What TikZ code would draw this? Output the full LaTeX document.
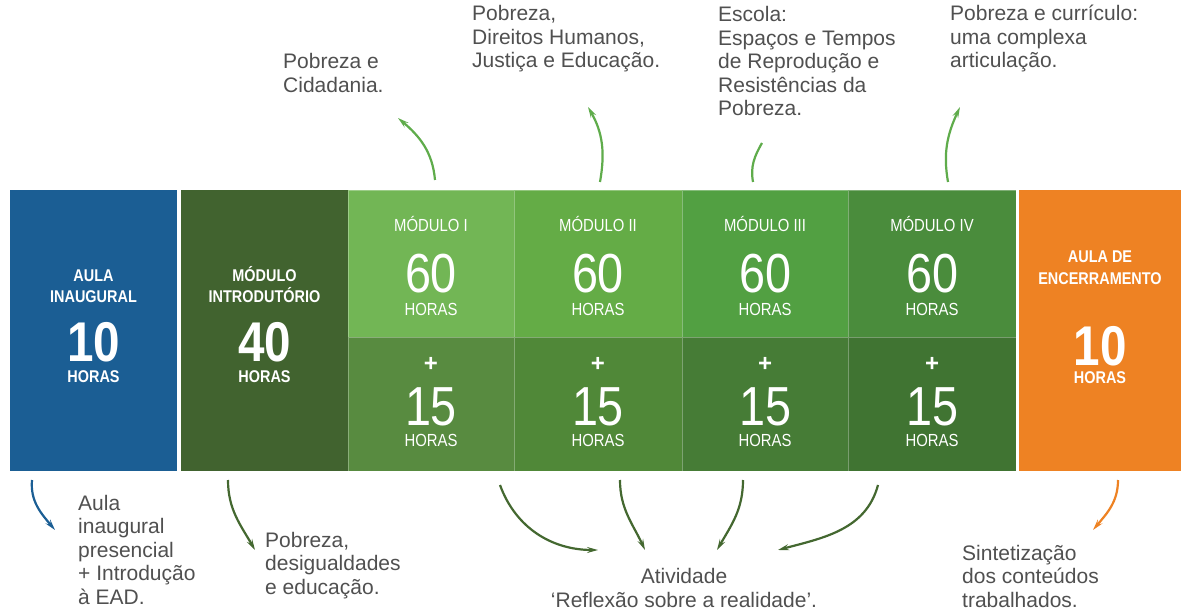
\documentclass[tikz,border=0pt]{standalone}
\usepackage{fontspec}
\setmainfont{Liberation Sans}
\newfontfamily\condfont[FakeStretch=0.85]{Liberation Sans}
\usetikzlibrary{arrows.meta}

\definecolor{aulablue}{RGB}{27,94,148}
\definecolor{introgreen}{RGB}{65,99,47}
\definecolor{modAtop}{RGB}{114,182,85}
\definecolor{modAbot}{RGB}{88,139,64}
\definecolor{modBtop}{RGB}{100,172,70}
\definecolor{modBbot}{RGB}{80,136,56}
\definecolor{modCtop}{RGB}{82,160,66}
\definecolor{modCbot}{RGB}{70,124,54}
\definecolor{modDtop}{RGB}{74,140,60}
\definecolor{modDbot}{RGB}{64,116,50}
\definecolor{fimorange}{RGB}{238,130,35}
\definecolor{topgreen}{RGB}{95,172,75}
\definecolor{botgreen}{RGB}{68,104,48}
\definecolor{labelgray}{RGB}{80,80,80}

\tikzset{
  box/.style={inner sep=0pt,outer sep=0pt,anchor=north west},
  cell/.style={box,draw=white,draw opacity=0.3,line width=0.7pt},
  capb/.style={text=white,anchor=base,inner sep=0pt,font=\condfont\bfseries\fontsize{17}{20}\selectfont},
  capr/.style={text=white,anchor=base,inner sep=0pt,font=\condfont\fontsize{17.5}{20}\selectfont},
  bignum/.style={text=white,anchor=base,inner sep=0pt,font=\condfont\bfseries\fontsize{56}{60}\selectfont},
  thinnum/.style={text=white,anchor=base,inner sep=0pt,font=\condfont\fontsize{55}{60}\selectfont},
  plus/.style={text=white,anchor=base,inner sep=0pt,font=\bfseries\fontsize{24}{24}\selectfont},
  lbl/.style={text=labelgray,anchor=base west,inner sep=0pt,align=left,font=\fontsize{21}{23.5}\selectfont},
  uparr/.style={draw=topgreen,line width=2.2pt,->,>={Stealth[length=11pt,width=6pt,inset=4pt]}},
  dnarr/.style={draw=botgreen,line width=2.2pt,->,>={Stealth[length=11pt,width=6pt,inset=4pt]}}
}

\begin{document}
\begin{tikzpicture}[x=1pt,y=1pt]
\useasboundingbox[fill=white] (0,0) rectangle (1181,-612);
% boxes
\node[box,fill=aulablue,minimum width=167pt,minimum height=281pt] (aula) at (10,-190) {};
\node[box,fill=introgreen,minimum width=167pt,minimum height=281pt] (intro) at (181,-190) {};
\node[cell,fill=modAtop,minimum width=166pt,minimum height=147pt] (m1a) at (348,-190) {};
\node[cell,fill=modAbot,minimum width=166pt,minimum height=134pt] (m1b) at (348,-337) {};
\node[cell,fill=modBtop,minimum width=168pt,minimum height=147pt] (m2a) at (514,-190) {};
\node[cell,fill=modBbot,minimum width=168pt,minimum height=134pt] (m2b) at (514,-337) {};
\node[cell,fill=modCtop,minimum width=166pt,minimum height=147pt] (m3a) at (682,-190) {};
\node[cell,fill=modCbot,minimum width=166pt,minimum height=134pt] (m3b) at (682,-337) {};
\node[cell,fill=modDtop,minimum width=168pt,minimum height=147pt] (m4a) at (848,-190) {};
\node[cell,fill=modDbot,minimum width=168pt,minimum height=134pt] (m4b) at (848,-337) {};
\node[box,fill=fimorange,minimum width=162pt,minimum height=281pt] (fim) at (1019,-190) {};

% aula inaugural
\node[capb] (aulaA) at (93.5,-282) {AULA};
\node[capb] (aulaB) at (93.5,-303) {INAUGURAL};
\node[bignum] (aulaN) at (93.5,-362) {10};
\node[capb] (aulaH) at (93.5,-382) {HORAS};
% modulo introdutorio
\node[capb] (introA) at (264.5,-282) {MÓDULO};
\node[capb] (introB) at (264.5,-303) {INTRODUTÓRIO};
\node[bignum] (introN) at (264.5,-362) {40};
\node[capb] (introH) at (264.5,-382) {HORAS};
% modulo I
\node[capr] (m1t) at (431,-232) {MÓDULO I};
\node[thinnum] (m1n) at (431,-293) {60};
\node[capr] (m1h) at (431,-316) {HORAS};
\node[plus] (m1p) at (431,-371) {+};
\node[thinnum] (m1m) at (431,-425) {15};
\node[capr] (m1k) at (431,-446) {HORAS};
% modulo II
\node[capr] (m2t) at (598,-232) {MÓDULO II};
\node[thinnum] (m2n) at (598,-293) {60};
\node[capr] (m2h) at (598,-316) {HORAS};
\node[plus] (m2p) at (598,-371) {+};
\node[thinnum] (m2m) at (598,-425) {15};
\node[capr] (m2k) at (598,-446) {HORAS};
% modulo III
\node[capr] (m3t) at (765,-232) {MÓDULO III};
\node[thinnum] (m3n) at (765,-293) {60};
\node[capr] (m3h) at (765,-316) {HORAS};
\node[plus] (m3p) at (765,-371) {+};
\node[thinnum] (m3m) at (765,-425) {15};
\node[capr] (m3k) at (765,-446) {HORAS};
% modulo IV
\node[capr] (m4t) at (932,-232) {MÓDULO IV};
\node[thinnum] (m4n) at (932,-293) {60};
\node[capr] (m4h) at (932,-316) {HORAS};
\node[plus] (m4p) at (932,-371) {+};
\node[thinnum] (m4m) at (932,-425) {15};
\node[capr] (m4k) at (932,-446) {HORAS};
% aula de encerramento
\node[capb] (fimA) at (1100,-263) {AULA DE};
\node[capb] (fimB) at (1100,-285) {ENCERRAMENTO};
\node[bignum] (fimN) at (1100,-366) {10};
\node[capb] (fimH) at (1100,-383) {HORAS};

% top labels (base = last line)
\node[lbl] (cid) at (283,-92.5) {Pobreza e\\Cidadania.};
\node[lbl] (dir) at (472,-68) {Pobreza,\\Direitos Humanos,\\Justiça e Educação.};
\node[lbl] (esc) at (718,-116) {Escola:\\Espaços e Tempos\\de Reprodução e\\Resistências da\\Pobreza.};
\node[lbl] (cur) at (950,-68) {Pobreza e currículo:\\uma complexa\\articulação.};
% bottom labels
\node[lbl] (ead) at (78,-604) {Aula\\inaugural\\presencial\\+ Introdução\\à EAD.};
\node[lbl] (des) at (265,-594) {Pobreza,\\desigualdades\\e educação.};
\node[lbl,anchor=base,align=center] (ativ) at (684,-607) {Atividade\\‘Reflexão sobre a realidade’.};
\node[lbl] (sint) at (962,-607) {Sintetização\\dos conteúdos\\trabalhados.};

% arrow ends
\coordinate (u1a) at (435,-180); \coordinate (u1b) at (398,-118);
\coordinate (u2a) at (600,-182); \coordinate (u2b) at (588,-107);
\coordinate (u3a) at (753,-182); \coordinate (u3b) at (762,-143);
\coordinate (u4a) at (948,-182); \coordinate (u4b) at (960,-107);
\coordinate (d1a) at (32,-480);  \coordinate (d1b) at (55,-530);
\coordinate (d2a) at (228,-480); \coordinate (d2b) at (255,-550);
\coordinate (d3a) at (500,-485); \coordinate (d3b) at (598,-550);
\coordinate (d4a) at (620,-480); \coordinate (d4b) at (645,-550);
\coordinate (d5a) at (743,-480); \coordinate (d5b) at (717,-550);
\coordinate (d6a) at (878,-485); \coordinate (d6b) at (778,-550);
\coordinate (d7a) at (1118,-480); \coordinate (d7b) at (1093,-530);

% arrows up
\draw[uparr] (u1a) to[out=95,in=-40] (u1b);
\draw[uparr] (u2a) to[out=80,in=-60] (u2b);
\draw[draw=topgreen,line width=2.2pt] (u3a) to[out=100,in=-120] (u3b);
\draw[uparr] (u4a) to[out=100,in=-115] (u4b);
% arrows down
\draw[dnarr,draw=aulablue] (d1a) to[out=-95,in=130] (d1b);
\draw[dnarr] (d2a) to[out=-90,in=120] (d2b);
\draw[dnarr] (d3a) to[out=-70,in=180] (d3b);
\draw[dnarr] (d4a) to[out=-90,in=115] (d4b);
\draw[dnarr] (d5a) to[out=-90,in=60] (d5b);
\draw[dnarr] (d6a) to[out=-105,in=15] (d6b);
\draw[dnarr,draw=fimorange] (d7a) to[out=-90,in=50] (d7b);
\end{tikzpicture}
\end{document}
